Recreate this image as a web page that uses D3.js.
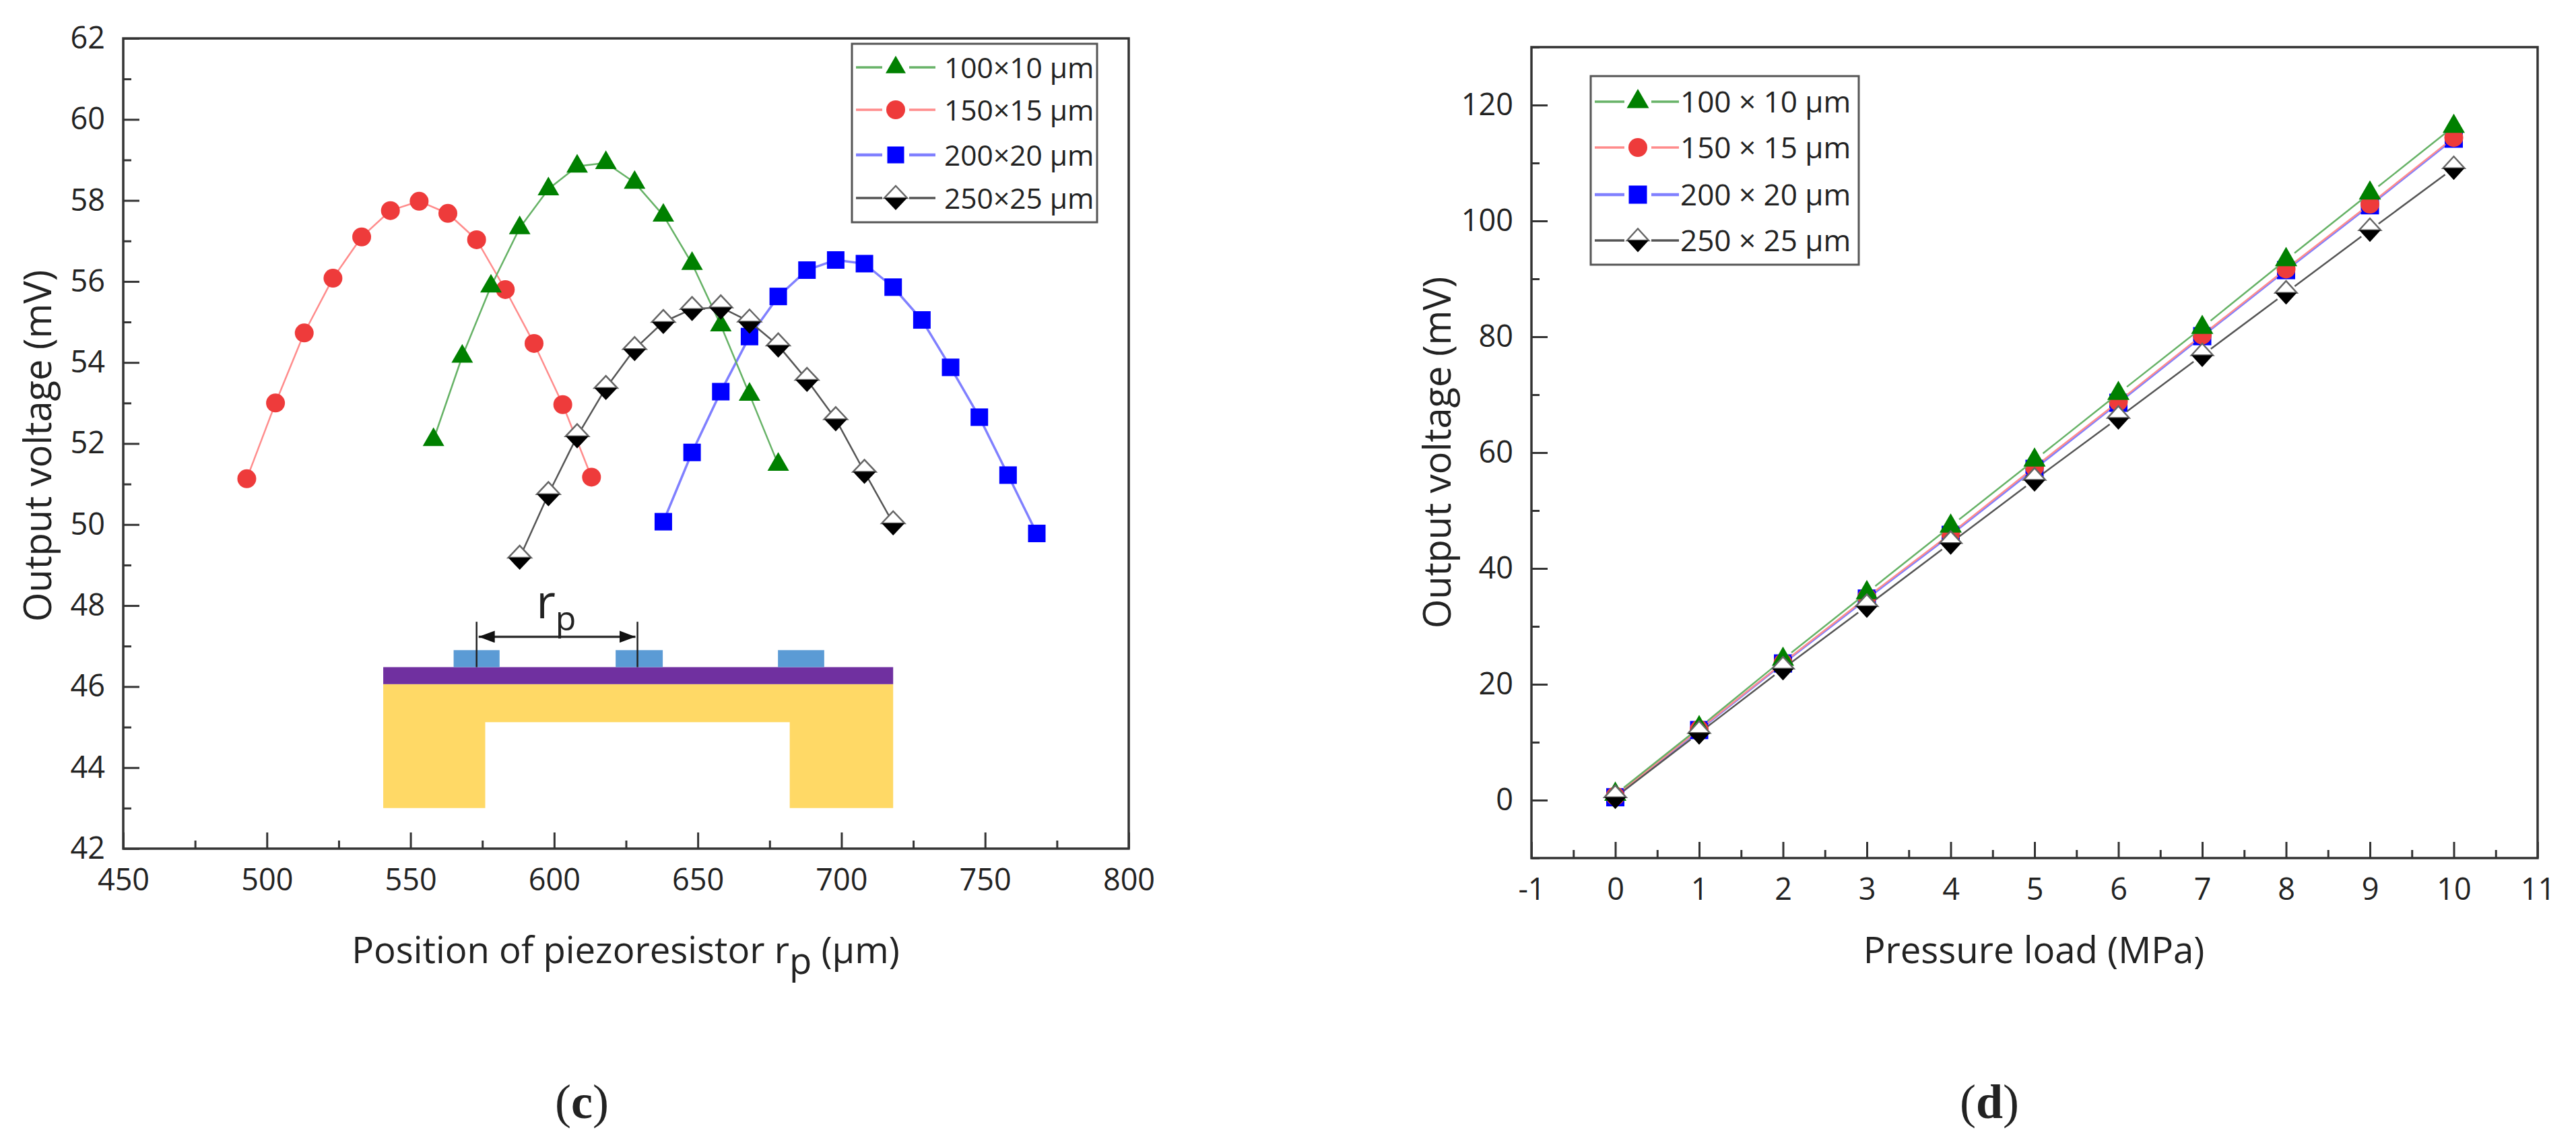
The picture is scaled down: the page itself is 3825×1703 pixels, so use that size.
<!DOCTYPE html>
<html>
<head>
<meta charset="utf-8">
<script src="https://cdn.jsdelivr.net/npm/d3@7"></script>
<style>
  html, body { margin: 0; background: #fff; }
  text { font-family: "Open Sans", sans-serif; fill: #222; }
  text.fig-label { font-family: "Liberation Serif", serif; }
</style>
</head>
<body>
<svg id="fig" width="3825" height="1703"></svg>
<script>
// panel (c): position of piezoresistor vs output voltage
const cGreenX = [558, 568, 578, 588, 598, 608, 618, 628, 638, 648, 658, 668, 678];
const cGreenY = [52.09, 54.15, 55.88, 57.32, 58.28, 58.84, 58.93, 58.44, 57.63, 56.44, 54.92, 53.21, 51.48];
const cRedX = [493, 503, 513, 523, 533, 543, 553, 563, 573, 583, 593, 603, 613];
const cRedY = [51.13, 53.0, 54.73, 56.08, 57.1, 57.75, 57.98, 57.68, 57.03, 55.8, 54.47, 52.96, 51.17];
const cBlueX = [638, 648, 658, 668, 678, 688, 698, 708, 718, 728, 738, 748, 758, 768];
const cBlueY = [50.07, 51.78, 53.28, 54.64, 55.63, 56.28, 56.53, 56.44, 55.86, 55.05, 53.88, 52.65, 51.22, 49.78];
const cBlackX = [588, 598, 608, 618, 628, 638, 648, 658, 668, 678, 688, 698, 708, 718];
const cBlackY = [49.18, 50.75, 52.18, 53.37, 54.33, 55.0, 55.32, 55.36, 55.01, 54.42, 53.57, 52.6, 51.3, 50.03];

// panel (d): pressure load vs output voltage
const dLoad = [0, 1, 2, 3, 4, 5, 6, 7, 8, 9, 10];
const dGreen = [1, 12.5, 24.3, 35.8, 47.3, 58.7, 70.2, 81.6, 93.3, 104.8, 116.3];
const dRed = [0.7, 12.2, 23.7, 35, 46, 57.5, 68.8, 80.3, 91.7, 102.9, 114.4];
const dBlue = [0.5, 12.1, 23.6, 34.8, 45.8, 57.2, 68.6, 80.1, 91.5, 102.7, 114.2];
const dBlack = [0.5, 11.6, 22.7, 33.5, 44.4, 55.3, 66, 76.8, 87.6, 98.4, 109.1];

const cLegend = ['100×10 µm', '150×15 µm', '200×20 µm', '250×25 µm'];
const dLegend = ['100 × 10 µm', '150 × 15 µm', '200 × 20 µm', '250 × 25 µm'];

const cXTicks = [450, 500, 550, 600, 650, 700, 750, 800];
const cXMinor = [475, 525, 575, 625, 675, 725, 775];
const cYTicks = [42, 44, 46, 48, 50, 52, 54, 56, 58, 60, 62];
const cYMinor = [43, 45, 47, 49, 51, 53, 55, 57, 59, 61];
const dXTicks = [-1, 0, 1, 2, 3, 4, 5, 6, 7, 8, 9, 10, 11];
const dXMinor = [-0.5, 0.5, 1.5, 2.5, 3.5, 4.5, 5.5, 6.5, 7.5, 8.5, 9.5, 10.5];
const dYTicks = [0, 20, 40, 60, 80, 100, 120];
const dYMinor = [-10, 10, 30, 50, 70, 90, 110, 130];

const svg = d3.select('#fig');
const ink = '#333';

const xC = d3.scaleLinear().domain([450, 800]).range([183, 1676]);
const yC = d3.scaleLinear().domain([42, 62]).range([1260, 57]);
const xD = d3.scaleLinear().domain([-1, 11]).range([2274, 3768]);
const yD = d3.scaleLinear().domain([-10, 130]).range([1274, 70]);

function drawAxes(x, y, xTicks, xMinor, yTicks, yMinor) {
  const [x0, x1] = x.range();
  const [y0, y1] = y.range();

  svg.append('rect')
    .attr('x', x0).attr('y', y1)
    .attr('width', x1 - x0).attr('height', y0 - y1)
    .attr('fill', 'none').attr('stroke', ink).attr('stroke-width', 3.5);

  // major ticks point inward, labels sit outside. String() keeps the plain hyphen in -1
  const bottom = svg.append('g').attr('transform', `translate(0,${y0})`)
    .call(d3.axisBottom(x).tickValues(xTicks).tickSizeInner(-24).tickSizeOuter(0).tickPadding(30).tickFormat(String));
  const left = svg.append('g').attr('transform', `translate(${x0},0)`)
    .call(d3.axisRight(y).tickValues(yTicks).tickSizeInner(24).tickSizeOuter(0).tickFormat(String));
  left.selectAll('text').attr('x', -27).attr('text-anchor', 'end');

  const minorB = svg.append('g').attr('transform', `translate(0,${y0})`)
    .call(d3.axisBottom(x).tickValues(xMinor).tickSizeInner(-12).tickSizeOuter(0).tickFormat(''));
  const minorL = svg.append('g').attr('transform', `translate(${x0},0)`)
    .call(d3.axisRight(y).tickValues(yMinor).tickSizeInner(12).tickSizeOuter(0).tickFormat(''));

  [bottom, left, minorB, minorL].forEach((g) => {
    g.select('.domain').remove();
    g.selectAll('line').attr('stroke', ink).attr('stroke-width', 3);
    g.selectAll('text').style('font-size', '45px').style('fill', '#222').style('font-family', '"Open Sans", sans-serif');
  });
}

// markers are drawn around 0,0
function drawMarker(g, kind, px, py, s) {
  const at = `translate(${px},${py})`;
  if (kind === 'triangle') {
    g.append('path').attr('transform', at)
      .attr('d', d3.symbol(d3.symbolTriangle, 0.433 * s.tri * s.tri)()).attr('fill', '#008000');
  } else if (kind === 'circle') {
    g.append('circle').attr('transform', at).attr('r', s.circle / 2).attr('fill', '#ee3b3b');
  } else if (kind === 'square') {
    g.append('rect').attr('transform', at)
      .attr('x', -s.square / 2).attr('y', -s.square / 2)
      .attr('width', s.square).attr('height', s.square).attr('fill', '#0000ff');
  } else {
    const w = s.diaW / 2;
    const h = s.diaH / 2;
    g.append('path').attr('transform', at)
      .attr('d', `M${-w},0L0,${-h}L${w},0Z`)
      .attr('fill', '#fff').attr('stroke', '#666').attr('stroke-width', 2.5);
    g.append('path').attr('transform', at)
      .attr('d', `M${-w},0L0,${h}L${w},0Z`).attr('fill', '#000');
  }
}

const styles = {
  triangle: { color: '#66b266', width: 2.5 },
  circle: { color: '#ff8c8c', width: 2.5 },
  square: { color: '#8080ff', width: 3.5 },
  diamond: { color: '#555', width: 2.5 },
};

function drawSeries(kind, xs, ys, x, y, s) {
  const g = svg.append('g');
  const st = styles[kind];
  const pts = xs.map((v, i) => [x(v), y(ys[i])]);
  // origin leaves a small gap between each symbol and the line
  d3.pairs(pts).forEach(([a, b]) => {
    const len = Math.hypot(b[0] - a[0], b[1] - a[1]);
    const ux = (b[0] - a[0]) / len;
    const uy = (b[1] - a[1]) / len;
    g.append('line')
      .attr('x1', a[0] + ux * s.gap).attr('y1', a[1] + uy * s.gap)
      .attr('x2', b[0] - ux * s.gap).attr('y2', b[1] - uy * s.gap)
      .attr('stroke', st.color).attr('stroke-width', st.width);
  });
  pts.forEach((p) => drawMarker(g, kind, p[0], p[1], s));
}

function drawLegend(labels, box, rows, s) {
  svg.append('rect')
    .attr('x', box.x).attr('y', box.y).attr('width', box.w).attr('height', box.h)
    .attr('fill', '#fff').attr('stroke', '#555').attr('stroke-width', 3);
  const kinds = ['triangle', 'circle', 'square', 'diamond'];
  labels.forEach((label, i) => {
    const g = svg.append('g');
    const st = styles[kinds[i]];
    g.append('line').attr('x1', box.lineX0).attr('x2', box.markX - 20)
      .attr('y1', rows[i]).attr('y2', rows[i]).attr('stroke', st.color).attr('stroke-width', st.width + 1);
    g.append('line').attr('x1', box.markX + 20).attr('x2', box.lineX1)
      .attr('y1', rows[i]).attr('y2', rows[i]).attr('stroke', st.color).attr('stroke-width', st.width + 1);
    drawMarker(g, kinds[i], box.markX, rows[i], s);
    g.append('text').attr('x', box.textX).attr('y', rows[i] + 16)
      .style('font-size', box.font).text(label);
  });
}

/* ---------- panel c ---------- */
drawAxes(xC, yC, cXTicks, cXMinor, cYTicks, cYMinor);

// cross-section inset, placed in axis units
const yellowPath = d3.path();
yellowPath.moveTo(xC(540.5), yC(43));
yellowPath.lineTo(xC(540.5), yC(46.06));
yellowPath.lineTo(xC(718), yC(46.06));
yellowPath.lineTo(xC(718), yC(43));
yellowPath.lineTo(xC(682), yC(43));
yellowPath.lineTo(xC(682), yC(45.12));
yellowPath.lineTo(xC(576), yC(45.12));
yellowPath.lineTo(xC(576), yC(43));
yellowPath.closePath();
svg.append('path').attr('d', yellowPath.toString()).attr('fill', '#ffd966');

svg.append('rect').attr('x', xC(540.5)).attr('y', yC(46.48))
  .attr('width', xC(718) - xC(540.5)).attr('height', yC(46.06) - yC(46.48))
  .attr('fill', '#7030a0');

[[565, 581], [621.4, 637.8], [677.9, 694]].forEach(([a, b]) => {
  svg.append('rect').attr('x', xC(a)).attr('y', yC(46.9))
    .attr('width', xC(b) - xC(a)).attr('height', yC(46.48) - yC(46.9))
    .attr('fill', '#5b9bd5');
});

[573, 629].forEach((v) => {
  svg.append('line').attr('x1', xC(v)).attr('x2', xC(v))
    .attr('y1', yC(47.6)).attr('y2', yC(46.48))
    .attr('stroke', '#222').attr('stroke-width', 2.5);
});

svg.append('defs').append('marker').attr('id', 'arrow')
  .attr('viewBox', '0 0 24 18').attr('refX', 24).attr('refY', 9)
  .attr('markerWidth', 24).attr('markerHeight', 18).attr('markerUnits', 'userSpaceOnUse')
  .attr('orient', 'auto-start-reverse')
  .append('path').attr('d', 'M0,0L24,9L0,18Z').attr('fill', '#111');

svg.append('line').attr('x1', xC(573) + 3).attr('x2', xC(629) - 3)
  .attr('y1', yC(47.23)).attr('y2', yC(47.23))
  .attr('stroke', '#333').attr('stroke-width', 3.5)
  .attr('marker-start', 'url(#arrow)').attr('marker-end', 'url(#arrow)');

const rpLabel = svg.append('text').attr('x', xC(600.7)).attr('y', yC(47.69))
  .attr('text-anchor', 'middle').style('font-size', '70px');
rpLabel.append('tspan').text('r');
rpLabel.append('tspan').attr('dy', 18).style('font-size', '50px').text('p');

const cSize = { tri: 32, circle: 28, square: 26, diaW: 34, diaH: 36, gap: 8 };
drawSeries('square', cBlueX, cBlueY, xC, yC, cSize);
drawSeries('circle', cRedX, cRedY, xC, yC, cSize);
drawSeries('triangle', cGreenX, cGreenY, xC, yC, cSize);
drawSeries('diamond', cBlackX, cBlackY, xC, yC, cSize);

drawLegend(cLegend,
  { x: 1265, y: 65, w: 364, h: 265, lineX0: 1271, lineX1: 1389, markX: 1330, textX: 1402, font: '42.5px' },
  [100, 163, 230, 294],
  { tri: 30, circle: 28, square: 25, diaW: 34, diaH: 36 });

svg.append('text')
  .attr('transform', 'translate(76,662) rotate(-90)')
  .attr('text-anchor', 'middle').style('font-size', '56px').text('Output voltage (mV)');

const cTitle = svg.append('text').attr('x', 929).attr('y', 1430)
  .attr('text-anchor', 'middle').style('font-size', '54.5px');
cTitle.append('tspan').text('Position of piezoresistor r');
cTitle.append('tspan').attr('dy', 16).text('p');
cTitle.append('tspan').attr('dy', -16).text(' (µm)');

/* ---------- panel d ---------- */
drawAxes(xD, yD, dXTicks, dXMinor, dYTicks, dYMinor);

const dSize = { tri: 33, circle: 28, square: 27, diaW: 32, diaH: 35, gap: 16 };
drawSeries('square', dLoad, dBlue, xD, yD, dSize);
drawSeries('circle', dLoad, dRed, xD, yD, dSize);
drawSeries('triangle', dLoad, dGreen, xD, yD, dSize);
drawSeries('diamond', dLoad, dBlack, xD, yD, dSize);

drawLegend(dLegend,
  { x: 2362, y: 113, w: 398, h: 280, lineX0: 2368, lineX1: 2493, markX: 2432, textX: 2495, font: '44px' },
  [151, 219, 289, 357],
  dSize);

svg.append('text')
  .attr('transform', 'translate(2154,672) rotate(-90)')
  .attr('text-anchor', 'middle').style('font-size', '56px').text('Output voltage (mV)');

svg.append('text').attr('x', 3020).attr('y', 1430)
  .attr('text-anchor', 'middle').style('font-size', '54.5px').text('Pressure load (MPa)');

/* ---------- figure labels ---------- */
[['c', 864], ['d', 2954]].forEach(([letter, px]) => {
  const t = svg.append('text').attr('class', 'fig-label').attr('x', px).attr('y', 1660)
    .attr('text-anchor', 'middle').style('font-size', '72px');
  t.append('tspan').text('(');
  t.append('tspan').style('font-weight', 'bold').text(letter);
  t.append('tspan').text(')');
});
</script>
</body>
</html>
